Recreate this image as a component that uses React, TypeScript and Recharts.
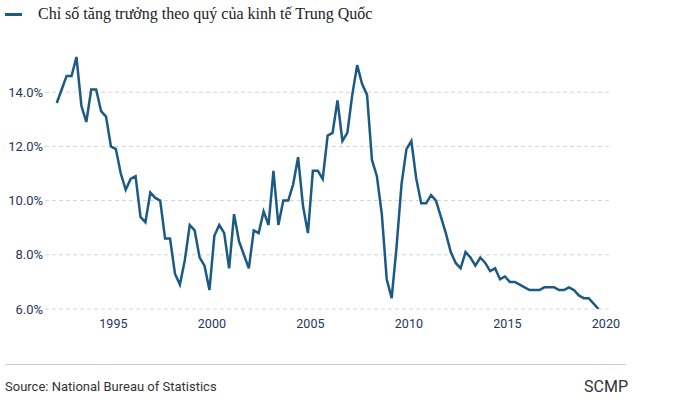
import React from "react";
import { LineChart, Line, XAxis, YAxis, CartesianGrid } from "recharts";

const years = [
  1992, 1993, 1994, 1995, 1996, 1997, 1998, 1999, 2000, 2001, 2002, 2003, 2004, 2005,
  2006, 2007, 2008, 2009, 2010, 2011, 2012, 2013, 2014, 2015, 2016, 2017, 2018, 2019,
];

// quarterly GDP growth (%), 1992 Q1 .. 2019 Q3
const growth = [
  13.6, 14.1, 14.6, 14.6,
  15.3, 13.5, 12.9, 14.1,
  14.1, 13.3, 13.1, 12.0,
  11.9, 11.0, 10.4, 10.8,
  10.9, 9.4, 9.2, 10.3,
  10.1, 10.0, 8.6, 8.6,
  7.3, 6.9, 7.8, 9.1,
  8.9, 7.9, 7.6, 6.7,
  8.7, 9.1, 8.8, 7.5,
  9.5, 8.5, 8.0, 7.5,
  8.9, 8.8, 9.6, 9.1,
  11.1, 9.1, 10.0, 10.0,
  10.6, 11.6, 9.8, 8.8,
  11.1, 11.1, 10.8, 12.4,
  12.5, 13.7, 12.2, 12.5,
  13.9, 15.0, 14.3, 13.9,
  11.5, 10.9, 9.5, 7.1,
  6.4, 8.3, 10.6, 11.9,
  12.2, 10.8, 9.9, 9.9,
  10.2, 10.0, 9.4, 8.8,
  8.1, 7.7, 7.5, 8.1,
  7.9, 7.6, 7.9, 7.7,
  7.4, 7.5, 7.1, 7.2,
  7.0, 7.0, 6.9, 6.8,
  6.7, 6.7, 6.7, 6.8,
  6.8, 6.8, 6.7, 6.7,
  6.8, 6.7, 6.5, 6.4,
  6.4, 6.2, 6.0,
];

const quarterNames = [1, 2, 3, 4];
const xTicks = [1995, 2000, 2005, 2010, 2015, 2020];
const yTicks = [6, 8, 10, 12, 14];

const seriesName = "Chỉ số tăng trưởng theo quý của kinh tế Trung Quốc";
const sourceText = "Source: National Bureau of Statistics";
const brandText = "SCMP";

const LINE_COLOR = "#1a5a85";

const data = years
  .flatMap((y) => quarterNames.map((q) => ({ year: y, q })))
  .slice(0, growth.length)
  .map((d, i) => ({
    label: `${d.year} Q${d.q}`,
    t: d.year + (d.q - 0.5) / 4,
    v: growth[i],
  }));

export default function App() {
  return (
    <div
      style={{
        position: "absolute",
        left: 0,
        top: 0,
        width: 681,
        height: 409,
        background: "#fff",
        overflow: "hidden",
      }}
    >
      <div style={{ position: "absolute", left: 5, top: 13, width: 17, height: 3, background: LINE_COLOR }} />
      <div
        style={{
          position: "absolute",
          left: 38,
          top: 3,
          fontFamily: "'Liberation Serif', serif",
          fontSize: 16,
          lineHeight: "22px",
          color: "#222",
          whiteSpace: "nowrap",
        }}
      >
        {seriesName}
      </div>
      <div style={{ position: "absolute", left: 0, top: 0 }}>
        <LineChart
          width={681}
          height={339}
          data={data}
          margin={{ top: 38, right: 70, bottom: 0, left: 0 }}
        >
          <CartesianGrid
            vertical={false}
            horizontalValues={yTicks}
            stroke="#d4d4d4"
            strokeDasharray="4 3"
          />
          <XAxis
            type="number"
            dataKey="t"
            domain={[1991.528, 2020.259]}
            ticks={xTicks}
            allowDataOverflow
            axisLine={false}
            tickLine={false}
            tickSize={0}
            tickMargin={10}
            height={30}
            tick={{ fill: "#26355a", fontSize: 12.5, fontFamily: "Roboto" }}
            interval={0}
          />
          <YAxis
            type="number"
            domain={[6, 16]}
            ticks={yTicks}
            allowDataOverflow
            axisLine={false}
            tickLine={false}
            tickSize={0}
            tickMargin={2}
            width={45}
            tickFormatter={(v: number) => `${v.toFixed(1)}%`}
            tick={{ fill: "#26355a", fontSize: 13, fontFamily: "Roboto" }}
            interval={0}
          />
          <Line
            type="linear"
            dataKey="v"
            name={seriesName}
            stroke={LINE_COLOR}
            strokeWidth={2.5}
            dot={false}
            isAnimationActive={false}
          />
        </LineChart>
      </div>
      <div style={{ position: "absolute", left: 5, top: 364, width: 621, height: 1, background: "#cccccc" }} />
      <div
        style={{
          position: "absolute",
          left: 5,
          top: 379,
          fontFamily: "Roboto",
          fontSize: 13,
          lineHeight: "16px",
          color: "#333",
          whiteSpace: "nowrap",
        }}
      >
        {sourceText}
      </div>
      <div
        style={{
          position: "absolute",
          right: 681 - 628,
          top: 377,
          fontFamily: "Roboto",
          fontSize: 16,
          lineHeight: "20px",
          color: "#333",
          whiteSpace: "nowrap",
        }}
      >
        {brandText}
      </div>
    </div>
  );
}
